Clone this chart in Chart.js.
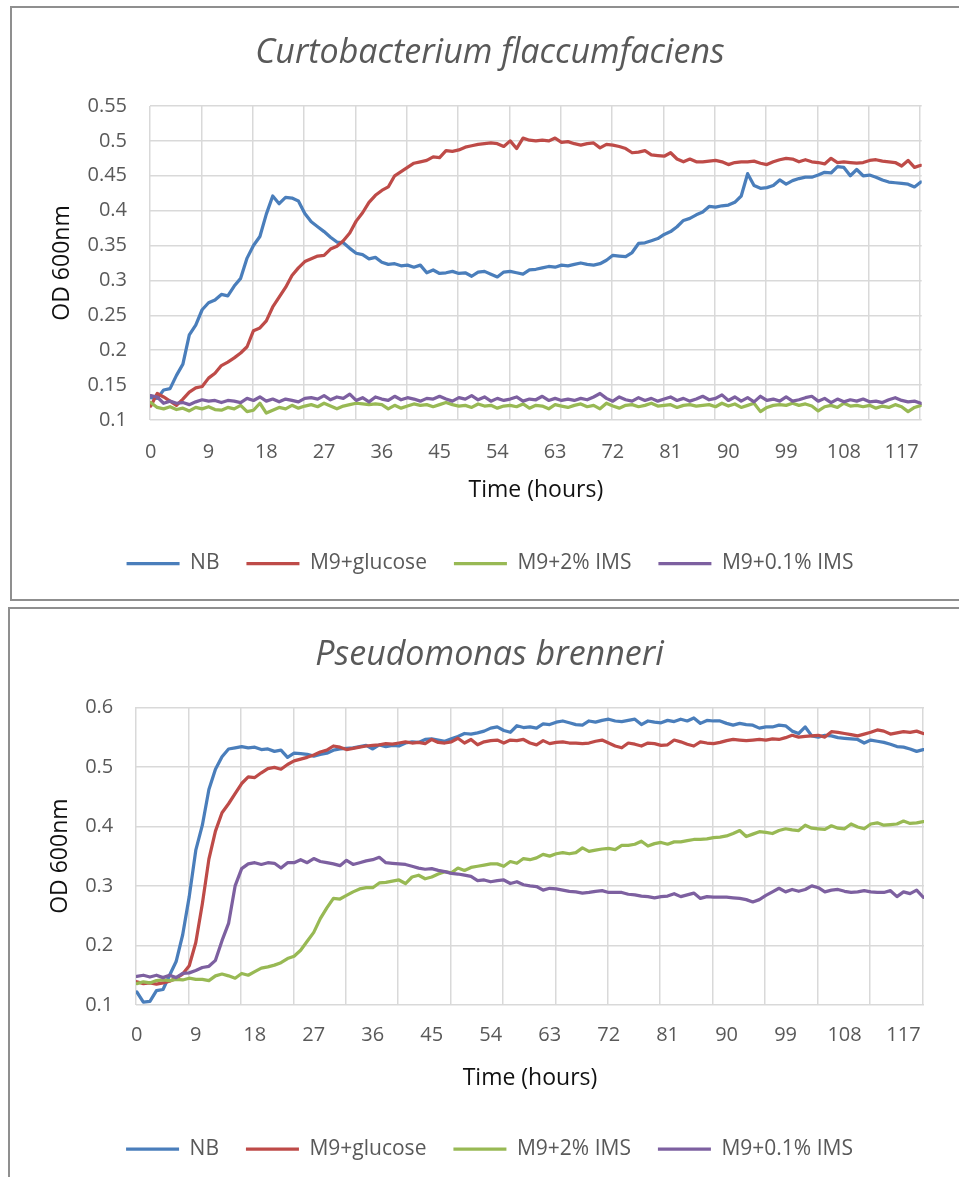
<!DOCTYPE html>
<html lang="en">
<head>
<meta charset="utf-8" />
<title>Growth curves OD 600nm</title>
<style>
  html, body { margin: 0; padding: 0; overflow: hidden; background: #fff; }
  .chartBox { position: absolute; border: 2px solid #8f8f8f; background: #fff; }
  #box1 { left: 10px; top: 6px; }
  #box2 { left: 8px; top: 607px; }
  canvas { display: block; }
</style>
</head>
<body>
<div class="chartBox" id="box1"><canvas id="chart1" width="956" height="591"></canvas></div>
<div class="chartBox" id="box2"><canvas id="chart2" width="959" height="580"></canvas></div>

<script src="https://cdn.jsdelivr.net/npm/chart.js"></script>
<script>
// time axis (hours), one reading per hour
const hours = Array.from({ length: 121 }, (_, i) => i);
const xTickLabels = [0, 9, 18, 27, 36, 45, 54, 63, 72, 81, 90, 99, 108, 117];

const seriesNames = ["NB", "M9+glucose", "M9+2% IMS", "M9+0.1% IMS"];
const seriesColors = ["#4a7ebb", "#be4b48", "#98b954", "#7d60a0"];

// Curtobacterium flaccumfaciens
const c1NB = [
  0.132,0.131,0.143,0.145,0.164,0.180,0.222,0.236,0.258,0.268,
  0.272,0.280,0.278,0.292,0.303,0.332,0.350,0.363,0.395,0.421,
  0.410,0.419,0.418,0.414,0.396,0.384,0.377,0.370,0.362,0.355,
  0.354,0.346,0.339,0.337,0.331,0.333,0.326,0.323,0.324,0.321,
  0.322,0.319,0.322,0.311,0.315,0.310,0.311,0.313,0.310,0.311,
  0.306,0.312,0.313,0.309,0.305,0.312,0.313,0.311,0.309,0.315,
  0.316,0.318,0.320,0.319,0.322,0.321,0.323,0.325,0.323,0.322,
  0.324,0.329,0.336,0.335,0.334,0.340,0.353,0.354,0.357,0.360,
  0.366,0.370,0.377,0.386,0.389,0.394,0.398,0.406,0.405,0.407,
  0.408,0.412,0.421,0.453,0.436,0.432,0.433,0.436,0.444,0.438,
  0.443,0.446,0.448,0.448,0.451,0.455,0.454,0.463,0.462,0.450,
  0.459,0.450,0.451,0.448,0.444,0.441,0.440,0.439,0.438,0.434,
  0.441
];
const c1Glucose = [
  0.120,0.138,0.133,0.127,0.121,0.130,0.140,0.146,0.148,0.160,
  0.167,0.178,0.183,0.189,0.196,0.205,0.228,0.232,0.242,0.262,
  0.276,0.290,0.307,0.318,0.327,0.331,0.335,0.336,0.345,0.349,
  0.357,0.368,0.385,0.397,0.412,0.422,0.429,0.434,0.450,0.456,
  0.462,0.468,0.470,0.472,0.477,0.476,0.486,0.485,0.487,0.491,
  0.493,0.495,0.496,0.497,0.496,0.492,0.500,0.489,0.504,0.501,
  0.500,0.501,0.500,0.504,0.498,0.499,0.496,0.494,0.496,0.497,
  0.490,0.495,0.494,0.492,0.489,0.483,0.484,0.486,0.480,0.479,
  0.478,0.483,0.474,0.470,0.474,0.470,0.470,0.471,0.472,0.470,
  0.466,0.469,0.470,0.470,0.471,0.468,0.466,0.470,0.473,0.475,
  0.474,0.470,0.473,0.470,0.469,0.467,0.475,0.469,0.470,0.469,
  0.468,0.469,0.472,0.473,0.471,0.470,0.469,0.464,0.472,0.462,
  0.465
];
const c1Ims2 = [
  0.125,0.118,0.116,0.119,0.115,0.117,0.113,0.118,0.116,0.119,
  0.115,0.114,0.118,0.116,0.121,0.112,0.114,0.124,0.110,0.114,
  0.118,0.116,0.121,0.117,0.120,0.122,0.119,0.124,0.120,0.116,
  0.120,0.122,0.124,0.123,0.122,0.123,0.122,0.116,0.121,0.117,
  0.120,0.123,0.121,0.122,0.119,0.122,0.125,0.122,0.120,0.121,
  0.118,0.123,0.120,0.121,0.117,0.120,0.121,0.119,0.123,0.117,
  0.121,0.120,0.116,0.122,0.120,0.118,0.121,0.123,0.119,0.121,
  0.116,0.124,0.120,0.117,0.121,0.122,0.119,0.121,0.124,0.120,
  0.121,0.122,0.118,0.121,0.122,0.120,0.121,0.122,0.119,0.124,
  0.120,0.123,0.118,0.121,0.124,0.112,0.118,0.121,0.122,0.121,
  0.124,0.121,0.123,0.120,0.113,0.119,0.121,0.118,0.124,0.120,
  0.121,0.119,0.121,0.117,0.120,0.118,0.122,0.119,0.112,0.118,
  0.121
];
const c1Ims01 = [
  0.135,0.133,0.124,0.127,0.124,0.125,0.122,0.126,0.129,0.127,
  0.128,0.125,0.128,0.127,0.125,0.131,0.128,0.133,0.127,0.130,
  0.126,0.130,0.128,0.126,0.131,0.132,0.130,0.135,0.129,0.133,
  0.131,0.137,0.128,0.132,0.126,0.133,0.130,0.128,0.134,0.129,
  0.132,0.130,0.127,0.131,0.130,0.134,0.130,0.127,0.132,0.130,
  0.135,0.129,0.133,0.127,0.131,0.128,0.130,0.133,0.127,0.130,
  0.129,0.134,0.128,0.131,0.128,0.130,0.128,0.131,0.129,0.133,
  0.138,0.131,0.127,0.133,0.129,0.127,0.132,0.128,0.131,0.127,
  0.130,0.133,0.128,0.131,0.127,0.130,0.134,0.129,0.131,0.136,
  0.128,0.133,0.127,0.132,0.126,0.134,0.128,0.130,0.127,0.133,
  0.127,0.129,0.132,0.134,0.127,0.131,0.125,0.130,0.126,0.129,
  0.127,0.130,0.126,0.127,0.125,0.129,0.132,0.128,0.126,0.127,
  0.124
];

// Pseudomonas brenneri
const c2NB = [
  0.122,0.105,0.106,0.124,0.126,0.150,0.173,0.218,0.282,0.360,
  0.402,0.462,0.496,0.517,0.530,0.532,0.534,0.532,0.533,0.529,
  0.530,0.526,0.528,0.516,0.523,0.522,0.521,0.518,0.521,0.523,
  0.528,0.530,0.531,0.532,0.534,0.536,0.530,0.537,0.534,0.536,
  0.535,0.540,0.542,0.541,0.546,0.547,0.545,0.543,0.547,0.551,
  0.556,0.555,0.557,0.560,0.565,0.567,0.561,0.558,0.569,0.566,
  0.567,0.565,0.572,0.571,0.575,0.577,0.574,0.571,0.570,0.577,
  0.575,0.578,0.580,0.577,0.576,0.578,0.580,0.571,0.577,0.575,
  0.574,0.578,0.576,0.580,0.577,0.582,0.573,0.578,0.577,0.577,
  0.573,0.570,0.573,0.571,0.570,0.565,0.567,0.567,0.570,0.569,
  0.560,0.556,0.567,0.552,0.550,0.553,0.552,0.549,0.548,0.547,
  0.546,0.540,0.545,0.543,0.541,0.538,0.534,0.533,0.530,0.526,
  0.529
];
const c2Glucose = [
  0.139,0.136,0.137,0.135,0.137,0.140,0.145,0.152,0.166,0.205,
  0.270,0.345,0.392,0.423,0.438,0.455,0.472,0.483,0.482,0.490,
  0.497,0.499,0.496,0.504,0.510,0.513,0.516,0.520,0.525,0.528,
  0.535,0.533,0.529,0.531,0.533,0.535,0.536,0.537,0.539,0.538,
  0.540,0.542,0.540,0.541,0.539,0.546,0.541,0.540,0.542,0.548,
  0.540,0.546,0.537,0.542,0.544,0.545,0.540,0.545,0.544,0.546,
  0.540,0.537,0.544,0.539,0.541,0.542,0.540,0.540,0.539,0.540,
  0.543,0.545,0.540,0.535,0.532,0.540,0.538,0.535,0.540,0.539,
  0.536,0.537,0.545,0.542,0.538,0.535,0.542,0.540,0.539,0.541,
  0.544,0.546,0.545,0.544,0.545,0.546,0.545,0.547,0.546,0.549,
  0.553,0.550,0.551,0.552,0.553,0.550,0.559,0.558,0.556,0.554,
  0.552,0.555,0.558,0.562,0.560,0.555,0.557,0.559,0.558,0.560,
  0.556
];
const c2Ims2 = [
  0.136,0.139,0.137,0.141,0.142,0.141,0.143,0.142,0.145,0.143,
  0.143,0.141,0.149,0.152,0.149,0.145,0.153,0.150,0.156,0.162,
  0.164,0.167,0.171,0.178,0.182,0.192,0.207,0.222,0.245,0.263,
  0.279,0.278,0.284,0.290,0.295,0.297,0.297,0.305,0.306,0.308,
  0.310,0.304,0.315,0.318,0.312,0.315,0.320,0.324,0.322,0.330,
  0.326,0.331,0.333,0.335,0.337,0.337,0.333,0.341,0.338,0.346,
  0.344,0.347,0.353,0.350,0.354,0.356,0.354,0.356,0.364,0.358,
  0.360,0.362,0.363,0.361,0.368,0.368,0.370,0.375,0.367,0.371,
  0.373,0.370,0.374,0.374,0.376,0.378,0.378,0.379,0.381,0.382,
  0.384,0.388,0.393,0.383,0.387,0.391,0.390,0.388,0.393,0.396,
  0.394,0.393,0.402,0.397,0.396,0.395,0.401,0.397,0.396,0.404,
  0.399,0.396,0.404,0.406,0.402,0.403,0.404,0.409,0.405,0.406,
  0.408
];
const c2Ims01 = [
  0.148,0.150,0.147,0.150,0.146,0.150,0.146,0.153,0.154,0.158,
  0.163,0.165,0.175,0.208,0.237,0.300,0.329,0.337,0.339,0.336,
  0.339,0.338,0.330,0.339,0.339,0.344,0.339,0.346,0.341,0.339,
  0.337,0.334,0.343,0.336,0.339,0.342,0.344,0.348,0.339,0.338,
  0.337,0.336,0.333,0.330,0.328,0.329,0.326,0.324,0.321,0.320,
  0.318,0.316,0.309,0.310,0.307,0.309,0.310,0.304,0.307,0.302,
  0.300,0.299,0.293,0.296,0.295,0.293,0.291,0.290,0.288,0.289,
  0.291,0.292,0.289,0.289,0.289,0.286,0.285,0.283,0.282,0.280,
  0.282,0.283,0.287,0.282,0.285,0.288,0.279,0.282,0.281,0.281,
  0.281,0.280,0.279,0.277,0.273,0.277,0.284,0.290,0.296,0.290,
  0.294,0.291,0.294,0.300,0.297,0.290,0.293,0.294,0.291,0.289,
  0.290,0.292,0.290,0.289,0.289,0.292,0.282,0.290,0.287,0.293,
  0.281
];

Chart.defaults.font.family = '"Open Sans", sans-serif';

const tickGrey = "#595959";
const gridGrey = "#d9d9d9";

// builds one bordered growth-curve chart
function makeChart(id, cfg) {
  const canvas = document.getElementById(id);
  // gridlines fall every 8 h, independent of the 9 h labels
  const gridTicks = Array.from({ length: 16 }, (_, k) => -0.125 + 8 * k);

  return new Chart(canvas, {
    type: "line",
    data: {
      datasets: seriesNames.map((name, i) => ({
        label: name,
        data: hours.map((h, j) => ({ x: h, y: cfg.values[i][j] })),
        borderColor: seriesColors[i],
        backgroundColor: seriesColors[i],
        borderWidth: 3.25,
        pointRadius: 0,
        tension: 0,
        borderJoinStyle: "round",
        borderCapStyle: "round",
        order: seriesNames.length - i,
      })),
    },
    options: {
      responsive: false,
      animation: false,
      devicePixelRatio: 1,
      events: [],
      layout: { padding: { left: 0, right: 0, top: 0, bottom: cfg.padBottom } },
      plugins: {
        title: {
          display: true,
          text: cfg.title,
          color: tickGrey,
          font: { size: 34, style: "italic", weight: "normal", lineHeight: 1.2 },
          padding: { top: cfg.titleTop, bottom: cfg.titleBottom },
        },
        legend: {
          position: "bottom",
          labels: {
            usePointStyle: true,
            pointStyle: "line",
            pointStyleWidth: 53,
            padding: 27,
            color: tickGrey,
            font: { size: 21 },
            sort: (a, b) => a.datasetIndex - b.datasetIndex,
          },
        },
        tooltip: { enabled: false },
      },
      scales: {
        x: {
          type: "linear",
          axis: "x",
          position: "bottom",
          min: -0.125,
          max: 120.125,
          afterBuildTicks: (s) => {
            s.ticks = xTickLabels.map((v) => ({ value: v }));
          },
          ticks: {
            autoSkip: false,
            maxRotation: 0,
            padding: cfg.xTickPad,
            color: tickGrey,
            font: { size: 20 },
            callback: (v) => String(v),
          },
          grid: { display: false, drawTicks: false },
          border: { display: false },
          title: {
            display: true,
            text: "Time (hours)",
            color: "#111",
            font: { size: 23 },
            padding: { top: 0, bottom: cfg.xTitleBottom },
          },
          afterFit: (s) => {
            s.height = cfg.xHeight;
          },
        },
        xg: {
          type: "linear",
          axis: "x",
          position: "top",
          min: -0.125,
          max: 120.125,
          afterBuildTicks: (s) => {
            s.ticks = gridTicks.map((v) => ({ value: v }));
          },
          ticks: { display: false },
          grid: { color: gridGrey, lineWidth: 1.5, drawTicks: false },
          border: { display: false },
          afterFit: (s) => {
            s.height = 0;
          },
        },
        y: {
          type: "linear",
          axis: "y",
          position: "left",
          min: cfg.yMin,
          max: cfg.yMax,
          ticks: {
            stepSize: cfg.yStep,
            padding: cfg.yTickPad,
            color: tickGrey,
            font: { size: 20 },
            callback: (v) => String(+v.toFixed(2)),
          },
          grid: { color: gridGrey, lineWidth: 1.5, drawTicks: false },
          border: { display: false },
          title: {
            display: true,
            text: "OD 600nm",
            color: "#111",
            font: { size: 23 },
            padding: { top: cfg.yTitleTop, bottom: 0 },
          },
          afterFit: (s) => {
            s.width = cfg.left;
          },
        },
        yr: {
          type: "linear",
          axis: "y",
          position: "right",
          ticks: { display: false },
          grid: { display: false, drawTicks: false },
          border: { display: false },
          afterFit: (s) => {
            s.width = cfg.rightGap;
          },
        },
      },
    },
  });
}

const chart1 = makeChart("chart1", {
  title: "Curtobacterium flaccumfaciens",
  values: [c1NB, c1Glucose, c1Ims2, c1Ims01],
  yMin: 0.1,
  yMax: 0.55,
  yStep: 0.05,
  left: 138,
  rightGap: 46.3,
  titleTop: 25.1,
  titleBottom: 32.1,
  padBottom: 15,
  xHeight: 106,
  xTickPad: 20,
  xTitleBottom: 22.2,
  yTickPad: 23,
  yTitleTop: 36.2,
});

const chart2 = makeChart("chart2", {
  title: "Pseudomonas brenneri",
  values: [c2NB, c2Glucose, c2Ims2, c2Ims01],
  yMin: 0.1,
  yMax: 0.6,
  yStep: 0.1,
  left: 126,
  rightGap: 45,
  titleTop: 26.1,
  titleBottom: 31.4,
  padBottom: 19.5,
  xHeight: 106.5,
  xTickPad: 18,
  xTitleBottom: 19.7,
  yTickPad: 22.7,
  yTitleTop: 36.5,
});
</script>
</body>
</html>
